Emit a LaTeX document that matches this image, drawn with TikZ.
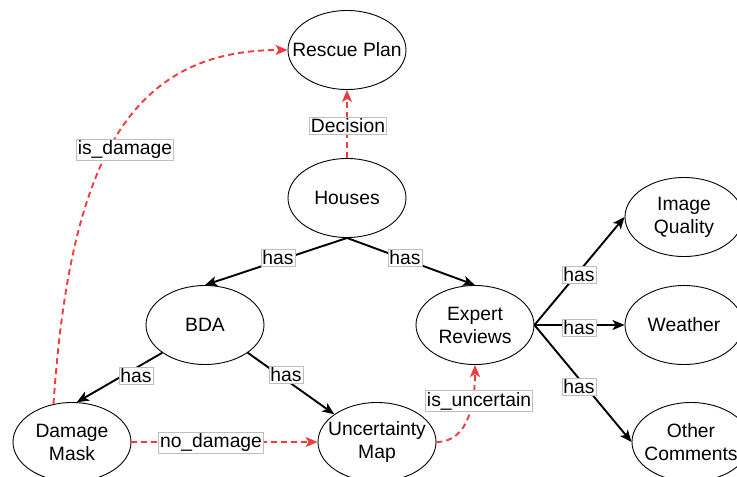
\documentclass[tikz,border=0pt]{standalone}
\usepackage{fontspec}
\setmainfont{Liberation Sans}
\usetikzlibrary{arrows.meta,shapes.geometric}
\definecolor{redline}{RGB}{240,60,60}
\definecolor{lblframe}{RGB}{190,190,190}
\begin{document}
\begin{tikzpicture}[x=1pt,y=-1pt,
  every node/.style={font=\fontsize{19.3}{23}\selectfont},
  ent/.style={ellipse,draw=black,line width=0.9pt,minimum width=118pt,minimum height=79pt,inner xsep=-30pt,inner ysep=0pt,align=center,fill=white},
  rel/.style={line width=1.9pt,-{Stealth[length=12pt,width=10pt,inset=3pt]}},
  redrel/.style={draw=redline,line width=1.9pt,dash pattern=on 6pt off 4pt,-{Stealth[length=12pt,width=10pt,inset=3pt]}},
  lbl/.style={draw=lblframe,line width=0.7pt,fill=white,inner sep=1.5pt}]
\useasboundingbox (0,0) rectangle (737,477);
\node[ent] (RP) at (347,50) {Rescue Plan};
\node[ent] (H) at (347,198) {Houses};
\node[ent] (BDA) at (205,325) {BDA};
\node[ent] (ER) at (475,325) {Expert\\Reviews};
\node[ent] (IQ) at (684,217) {Image\\Quality};
\node[ent] (W) at (684,325) {Weather};
\node[ent] (OC) at (691,442) {Other\\Comments};
\node[ent] (DM) at (72,442) {Damage\\Mask};
\node[ent] (UM) at (377,442) {Uncertainty\\Map};

\draw[rel] (H.south) -- (BDA.north);
\draw[rel] (H.south) -- (ER.north);
\draw[rel] (BDA.213) -- (DM.83);
\draw[rel] (BDA.-33) -- (UM.147);
\draw[rel] (ER.east) -- (IQ.west);
\draw[rel] (ER.east) -- (W.west);
\draw[rel] (ER.east) -- (OC.west);

\draw[redrel] (H.north) -- (RP.south);
\draw[redrel] (DM.east) -- (UM.west);
\draw[redrel] (UM.east) to[out=0,in=-90] (ER.south);
\draw[redrel] (DM.116) .. controls (70,160) and (130,50) .. (RP.west);

\node[lbl] (l1) at (348,126) {Decision};
\node[lbl] (l2) at (278,258) {has};
\node[lbl] (l3) at (405,258) {has};
\node[lbl] (l4) at (136,376) {has};
\node[lbl] (l5) at (286,375) {has};
\node[lbl] (l6) at (579,275) {has};
\node[lbl] (l7) at (579,328) {has};
\node[lbl] (l8) at (579,387) {has};
\node[lbl] (l9) at (479,401) {is\_uncertain};
\node[lbl] (l10) at (211,443) {no\_damage};
\node[lbl] (l11) at (125,150) {is\_damage};
\end{tikzpicture}
\end{document}
